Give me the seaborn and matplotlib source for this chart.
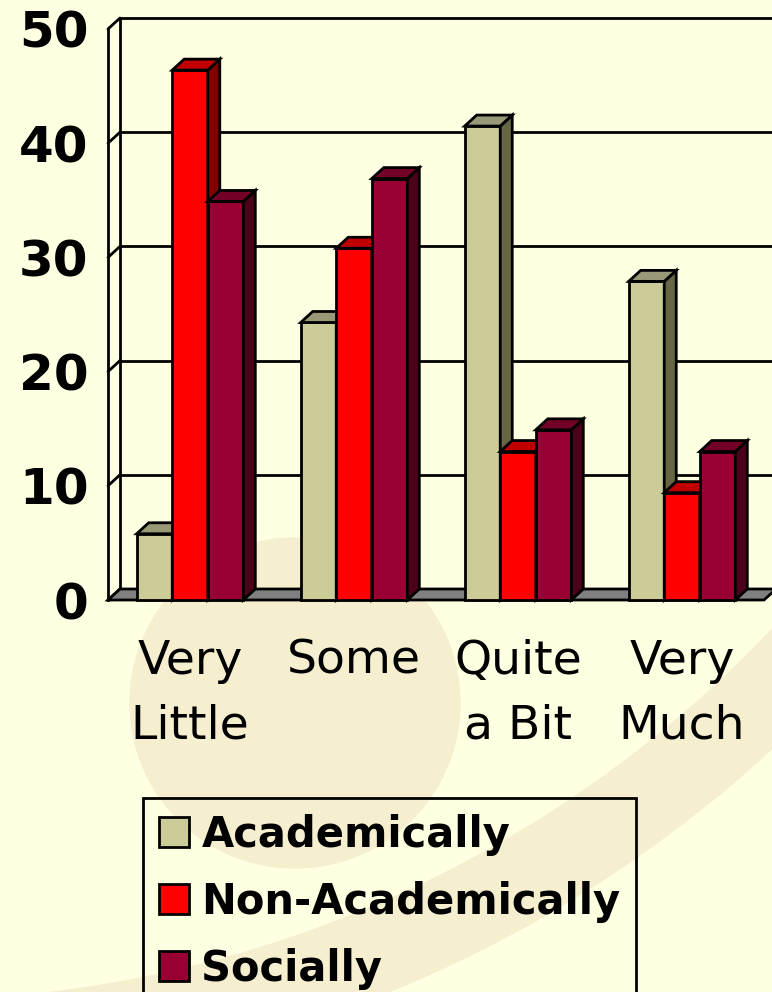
import numpy as np
import pandas as pd
import matplotlib
matplotlib.use("Agg")
import matplotlib.pyplot as plt
import matplotlib.patches as mpatches
import seaborn as sns

# chart values (percent of students)
levels = ["Very\nLittle", "Some", "Quite\na Bit", "Very\nMuch"]
groups = ["Academically", "Non-Academically", "Socially"]
academically = [5.8, 24.3, 41.5, 27.9]
non_academically = [46.4, 30.8, 13.0, 9.4]
socially = [34.9, 36.9, 14.9, 13.0]
y_ticks = [0, 10, 20, 30, 40, 50]

front_colors = ["#CCCC99", "#FF0000", "#990033"]
side_colors = ["#666644", "#800000", "#4C0019"]
top_colors = ["#999977", "#C00000", "#730026"]

BG = "#FFFFE2"
DECO = "#F5EFCF"
W, H = 772, 992
DX, DY = 12, 11  # depth of the fake 3d, in pixels
LW = 2

df = pd.DataFrame({
    "level": levels * 3,
    "group": np.repeat(groups, len(levels)),
    "value": academically + non_academically + socially,
})

sns.set_style("white")
plt.rcParams.update({"text.color": "black", "xtick.color": "black",
                     "ytick.color": "black", "axes.labelcolor": "black"})
fig = plt.figure(figsize=(W / 100, H / 100), dpi=100, facecolor=BG)


def inch(x, y):
    # pixel position (top-left origin) -> inches from bottom-left
    return x / 100, (H - y) / 100


# background decoration: a pale circle and a swoosh band
fig.patches.append(mpatches.Circle(inch(295, 703), 1.65, transform=fig.dpi_scale_trans,
                                   color=DECO, zorder=-2))
fig.patches.append(mpatches.Wedge(inch(-92, -189), 12.75, 270, 360, width=0.85,
                                  transform=fig.dpi_scale_trans, color=DECO, zorder=-2))

ax = fig.add_axes([108 / W, 1 - 600 / H, 656 / W, 571 / H])
ax.set_facecolor("none")

sns.barplot(data=df, x="level", y="value", hue="group", order=levels, hue_order=groups,
            palette=front_colors, saturation=1, width=0.65, edgecolor="black",
            linewidth=LW, legend=False, ax=ax)
ax.set_xlim(-0.5, 3.5)
ax.set_ylim(0, 50)


def lift(x, y):
    # shift a data point back into the depth of the chart
    p = ax.transData.transform((x, y))
    return tuple(ax.transData.inverted().transform((p[0] + DX, p[1] + DY)))


# back wall with gridlines + links to the front axis
for v in y_ticks:
    bx, by = lift(-0.5, v)
    ax.plot([bx, 3.7], [by, by], color="black", lw=LW, clip_on=False, zorder=1)
    ax.plot([-0.5, bx], [v, by], color="black", lw=LW, clip_on=False, zorder=1)
ax.plot([lift(-0.5, 0)[0]] * 2, [lift(-0.5, 0)[1], lift(-0.5, 50)[1]], color="black",
        lw=LW, clip_on=False, zorder=1)

# floor
floor = mpatches.Polygon([(-0.5, 0), (3.5, 0), lift(3.5, 0), lift(-0.5, 0)],
                         facecolor="#808080", edgecolor="black", lw=LW,
                         clip_on=False, zorder=2)
ax.add_patch(floor)

# side and top faces of the bars
for j, cont in enumerate(ax.containers):
    for bar in cont:
        x0 = bar.get_x()
        x1 = x0 + bar.get_width()
        h = bar.get_height()
        bar.set_zorder(3 + j)
        bar.set_clip_on(False)
        side = mpatches.Polygon([(x1, 0), (x1, h), lift(x1, h), lift(x1, 0)],
                                facecolor=side_colors[j], edgecolor="black", lw=LW,
                                clip_on=False, zorder=3.5 + j)
        top = mpatches.Polygon([(x0, h), (x1, h), lift(x1, h), lift(x0, h)],
                               facecolor=top_colors[j], edgecolor="black", lw=LW,
                               clip_on=False, zorder=3.5 + j)
        ax.add_patch(side)
        ax.add_patch(top)

# axes styling
for s in ["top", "right", "bottom"]:
    ax.spines[s].set_visible(False)
ax.spines["left"].set_color("black")
ax.spines["left"].set_linewidth(LW)
ax.spines["left"].set_zorder(10)

ax.set_yticks(y_ticks)
ax.set_yticklabels([str(v) for v in y_ticks], fontsize=36, fontweight="bold")
ax.tick_params(axis="y", length=11, width=LW, direction="out", pad=3)

ax.set_xticks(range(len(levels)))
ax.set_xticklabels(levels, fontsize=34, linespacing=1.55)
ax.set_xticks([-0.5, 0.5, 1.5, 2.5, 3.5], minor=True)
ax.tick_params(axis="x", which="major", length=0, pad=28)
ax.tick_params(axis="x", which="minor", length=10, width=LW, direction="out")
ax.set_xlabel("")
ax.set_ylabel("")

# legend (runs off the bottom edge, as in the original slide)
handles = [mpatches.Patch(facecolor=c, edgecolor="black", linewidth=LW, label=g)
           for c, g in zip(front_colors, groups)]
leg = fig.legend(handles=handles, loc="upper left", bbox_to_anchor=(143 / W, 1 - 798 / H),
                 bbox_transform=fig.transFigure, frameon=True, fancybox=False,
                 edgecolor="black", facecolor="none", framealpha=1,
                 prop={"family": "DejaVu Sans", "weight": "bold", "size": 30},
                 handlelength=0.72, handleheight=0.72, handletextpad=0.3,
                 borderpad=0.38, labelspacing=0.6, borderaxespad=0)
leg.get_frame().set_linewidth(LW)

fig.savefig("out.png", dpi=100, facecolor=BG)
